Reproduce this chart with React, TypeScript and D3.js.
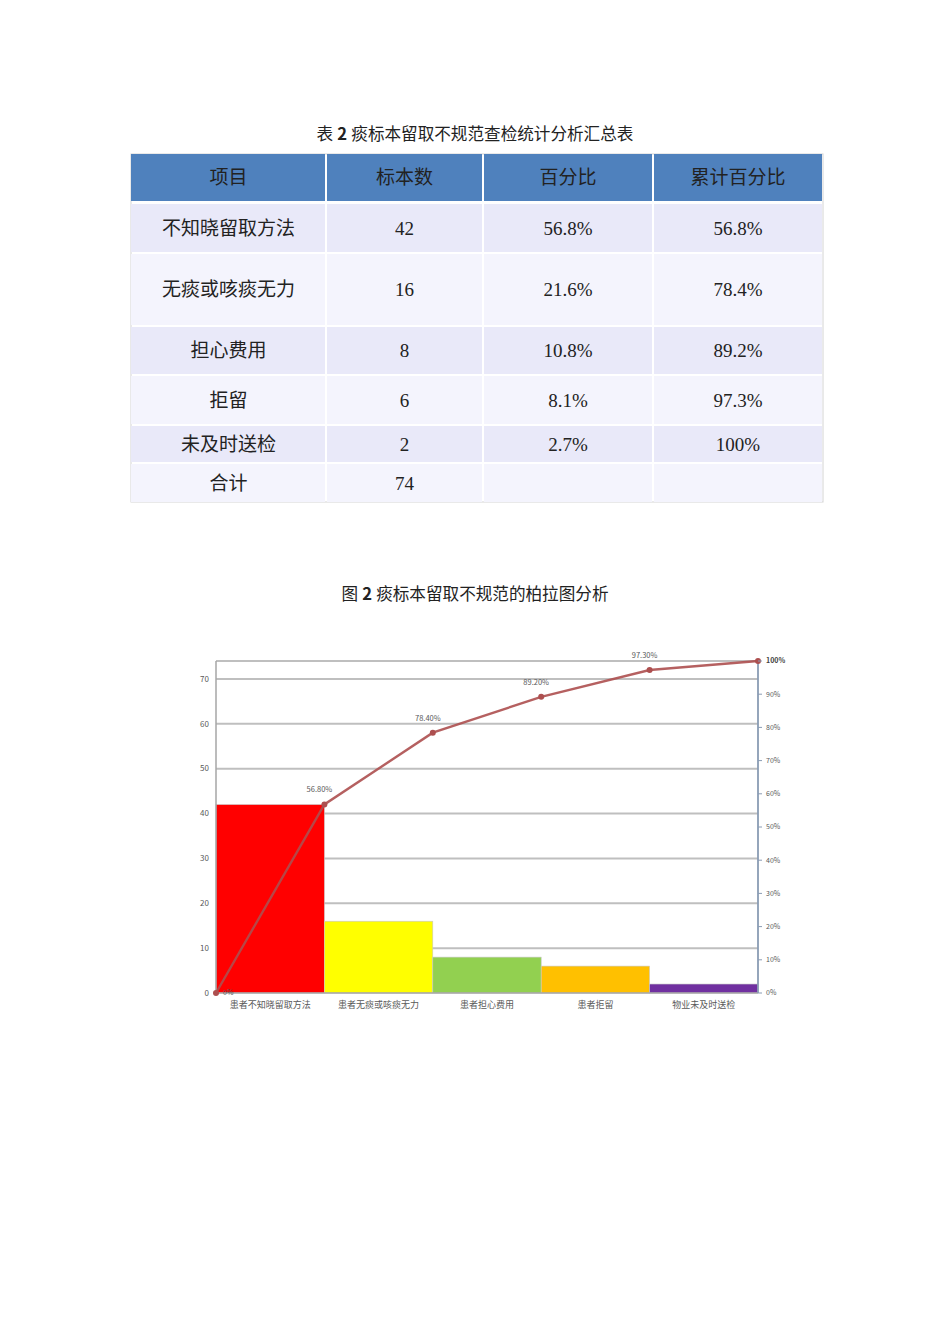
import React from 'react';
import * as d3 from 'd3';

// table data
const tableHeaders = ['项目', '标本数', '百分比', '累计百分比'];
const items = ['不知晓留取方法', '无痰或咳痰无力', '担心费用', '拒留', '未及时送检'];
const counts = [42, 16, 8, 6, 2];
const percents = ['56.8%', '21.6%', '10.8%', '8.1%', '2.7%'];
const cumPercents = ['56.8%', '78.4%', '89.2%', '97.3%', '100%'];
const totalLabel = '合计';
const total = 74;

// chart data
const categories = ['患者不知晓留取方法', '患者无痰或咳痰无力', '患者担心费用', '患者拒留', '物业未及时送检'];
const barValues = [42, 16, 8, 6, 2];
const barColors = ['#FF0000', '#FFFF00', '#92D050', '#FFC000', '#7030A0'];
const cumValues = [0, 56.8, 78.4, 89.2, 97.3, 100];
const cumLabels = ['0%', '56.80%', '78.40%', '89.20%', '97.30%', '100%'];
const leftTicks = [0, 10, 20, 30, 40, 50, 60, 70];
const rightTicks = [0, 10, 20, 30, 40, 50, 60, 70, 80, 90, 100];

const serif = "'Liberation Serif', 'Noto Sans CJK SC', serif";
const sans = "'Noto Sans CJK SC', 'Liberation Sans', sans-serif";

// table layout
const colEdges = [131, 326, 483, 653, 823];
const rowHeights = [47, 48, 71, 47, 48, 36, 38];
const tableTop = 154;

const Table: React.FC = () => {
  const rows: string[][] = items.map((it, i) => [it, String(counts[i]), percents[i], cumPercents[i]]);
  rows.push([totalLabel, String(total), '', '']);
  const rowTops: number[] = [];
  let y = tableTop;
  rowHeights.forEach((h, i) => {
    rowTops.push(y);
    y += h + (i === 0 ? 3 : 2);
  });
  return (
    <g>
      <text x={475} y={140} textAnchor="middle" fontSize={16.6} fontFamily={serif} fill="#222">
        表 <tspan fontWeight="bold" fontFamily={sans}>2</tspan> 痰标本留取不规范查检统计分析汇总表
      </text>
      {/* outer light border */}
      <rect x={colEdges[0]} y={tableTop} width={colEdges[4] - colEdges[0]} height={y - 2 - tableTop} fill="none" stroke="#d4d4d4" strokeWidth={1} />
      {[tableHeaders, ...rows].map((row, r) => (
        <g key={r}>
          {row.map((cell, c) => {
            const x0 = colEdges[c] + (c === 0 ? 0 : 1);
            const x1 = colEdges[c + 1] - 1;
            const fill = r === 0 ? '#4F81BD' : r % 2 === 1 ? '#E9E9F9' : '#F4F4FD';
            return (
              <g key={c}>
                <rect x={x0} y={rowTops[r]} width={x1 - x0} height={rowHeights[r]} fill={fill} />
                <text
                  x={(colEdges[c] + colEdges[c + 1]) / 2}
                  y={rowTops[r] + rowHeights[r] / 2}
                  dy="0.36em"
                  textAnchor="middle"
                  fontSize={19}
                  fontFamily={serif}
                  fill="#222"
                >
                  {cell}
                </text>
              </g>
            );
          })}
        </g>
      ))}
    </g>
  );
};

const Chart: React.FC = () => {
  const left = 216;
  const right = 758;
  const top = 661;
  const bottom = 993;

  const x = d3.scaleBand<string>().domain(categories).range([left, right]).padding(0);
  const yL = d3.scaleLinear().domain([0, 74]).range([bottom, top]);
  const yR = d3.scaleLinear().domain([0, 100]).range([bottom, top]);
  // cumulative points sit on band boundaries
  const xEdge = d3.scaleLinear().domain([0, categories.length]).range([left, right]);

  const line = d3.line<number>()
    .x((_, i) => xEdge(i))
    .y(d => yR(d));

  return (
    <g>
      <text x={475} y={600} textAnchor="middle" fontSize={16.6} fontFamily={serif} fill="#222">
        图 <tspan fontWeight="bold" fontFamily={sans}>2</tspan> 痰标本留取不规范的柏拉图分析
      </text>

      {/* gridlines */}
      {leftTicks.filter(t => t > 0).map(t => (
        <line key={t} x1={left} x2={right} y1={yL(t)} y2={yL(t)} stroke="#BFBFBF" strokeWidth={2} />
      ))}
      <line x1={left} x2={right} y1={top} y2={top} stroke="#BFBFBF" strokeWidth={2} />

      {/* bars */}
      {categories.map((c, i) => (
        <rect
          key={c}
          x={x(c)}
          y={yL(barValues[i])}
          width={x.bandwidth()}
          height={bottom - yL(barValues[i])}
          fill={barColors[i]}
          stroke="#C8C8C8"
          strokeWidth={0.6}
        />
      ))}

      {/* axes */}
      <line x1={left} x2={left} y1={top} y2={bottom} stroke="#A6A6A6" strokeWidth={1.5} />
      <line x1={left} x2={right} y1={bottom} y2={bottom} stroke="#A6A6A6" strokeWidth={1.5} />
      <line x1={right} x2={right} y1={top} y2={bottom} stroke="#8A9CB4" strokeWidth={1.8} />

      {leftTicks.map(t => (
        <text key={t} x={209} y={yL(t)} dy="0.35em" textAnchor="end" fontSize={8} fontFamily={sans} fill="#595959">
          {t}
        </text>
      ))}
      {rightTicks.filter(t => t < 100).map(t => (
        <g key={t}>
          <line x1={right} x2={right + 4} y1={yR(t)} y2={yR(t)} stroke="#8A9CB4" strokeWidth={1} />
          <text x={766} y={yR(t)} dy="0.35em" fontSize={7} fontFamily={sans} fill="#595959">
            {t}%
          </text>
        </g>
      ))}

      {categories.map(c => (
        <text key={c} x={(x(c) ?? 0) + x.bandwidth() / 2} y={1008} textAnchor="middle" fontSize={9} fontFamily={serif} fill="#595959">
          {c}
        </text>
      ))}

      {/* cumulative line */}
      <path d={line(cumValues) ?? ''} fill="none" stroke="#AD4F4F" strokeWidth={2.4} strokeOpacity={0.9} />
      {cumValues.map((v, i) => (
        <circle key={i} cx={xEdge(i)} cy={yR(v)} r={3} fill="#AD4F4F" />
      ))}
      {cumValues.map((v, i) => {
        if (i === 0) {
          return (
            <text key={i} x={xEdge(i) + 7} y={yR(v)} dy="0.35em" fontSize={7} fontFamily={sans} fill="#595959">
              {cumLabels[i]}
            </text>
          );
        }
        if (i === cumValues.length - 1) {
          // data label sits on top of the 100% axis tick, reading as one bold label
          return (
            <g key={i}>
              <line x1={right} x2={right + 4} y1={yR(100)} y2={yR(100)} stroke="#8A9CB4" strokeWidth={1} />
              <text x={766} y={yR(v)} dy="0.35em" fontSize={7} fontWeight="bold" fontFamily={sans} fill="#404040">
                {cumLabels[i]}
              </text>
            </g>
          );
        }
        return (
          <text key={i} x={xEdge(i) - 5} y={yR(v) - 12} textAnchor="middle" fontSize={7.5} fontFamily={sans} fill="#595959">
            {cumLabels[i]}
          </text>
        );
      })}
    </g>
  );
};

const App: React.FC = () => {
  return (
    <svg
      width={950}
      height={1344}
      style={{ position: 'absolute', left: 0, top: 0, background: '#fff' }}
    >
      <rect width={950} height={1344} fill="#fff" />
      <Table />
      <Chart />
    </svg>
  );
};

export default App;
